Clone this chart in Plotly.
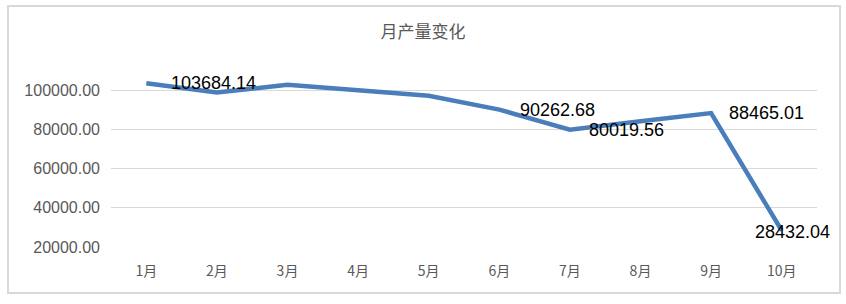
import plotly.graph_objects as go

months = ["1月", "2月", "3月", "4月", "5月", "6月", "7月", "8月", "9月", "10月"]
output = [103684.14, 99000, 102900, 100100, 97300, 90262.68, 80019.56, 84300, 88465.01, 28432.04]
label_idx = [0, 5, 6, 8, 9]
label_xshift = [23, 19, 17, 16, 11]
label_anchor = ["left", "left", "left", "left", "center"]
y_ticks = [20000, 40000, 60000, 80000, 100000]
y_tick_text = [f"{v:.2f}" for v in y_ticks]
title_text = "月产量变化"

W, H = 846, 304
ML, MR, MT, MB = 111, 29, 71, 57
pw, ph = W - ML - MR, H - MT - MB

def px_to_paper_x(px):
    return (px - ML) / pw

def px_to_paper_y(py):
    return (H - MB - py) / ph

fig = go.Figure()
fig.add_trace(go.Scatter(
    x=months, y=output, mode="lines",
    line=dict(color="#4A7EBB", width=4.5),
    hoverinfo="skip", showlegend=False,
))

for i, xs, anc in zip(label_idx, label_xshift, label_anchor):
    fig.add_annotation(
        x=months[i], y=output[i], text=f"{output[i]:.2f}",
        showarrow=False, xanchor=anc, yanchor="middle",
        xshift=xs, yshift=-1 if anc == "center" else 0,
        font=dict(family="Liberation Sans", size=18, color="#000000"),
    )

fig.add_shape(
    type="rect", xref="paper", yref="paper",
    x0=px_to_paper_x(8), x1=px_to_paper_x(840),
    y0=px_to_paper_y(293), y1=px_to_paper_y(6),
    line=dict(color="#D9D9D9", width=2), fillcolor="rgba(0,0,0,0)", layer="below",
)

fig.update_layout(
    width=W, height=H,
    margin=dict(l=ML, r=MR, t=MT, b=MB),
    paper_bgcolor="white", plot_bgcolor="white",
    title=dict(text=title_text, x=0.5, xanchor="center", xref="container",
               y=1 - 32 / H, yanchor="middle", yref="container",
               font=dict(family="Noto Sans CJK SC", size=17, color="#595959")),
    xaxis=dict(
        type="category", range=[-0.5, 9.5], showgrid=False, showline=False,
        zeroline=False, ticks="", ticklabelstandoff=14,
        tickfont=dict(family="Noto Sans CJK SC", size=14, color="#595959"),
    ),
    yaxis=dict(
        range=[20000, 110000], tickvals=y_ticks, ticktext=y_tick_text,
        showgrid=True, gridcolor="#D9D9D9", gridwidth=1.3, zeroline=False,
        showline=False, ticks="", ticklabelstandoff=10,
        tickfont=dict(family="Liberation Sans", size=16, color="#595959"),
    ),
)

fig.write_html("out.html", config={"displayModeBar": False})
